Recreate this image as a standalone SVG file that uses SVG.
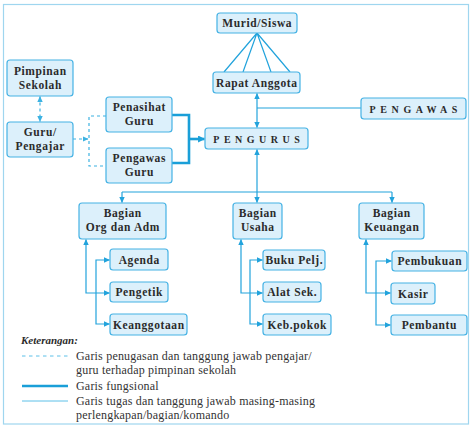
<svg xmlns="http://www.w3.org/2000/svg" width="473" height="429" viewBox="0 0 473 429">
<defs>
<marker id="ah" viewBox="0 0 6 6" refX="5.5" refY="3" markerWidth="6" markerHeight="6" markerUnits="userSpaceOnUse" orient="auto-start-reverse"><path d="M0,0.3 L6,3 L0,5.7 z" fill="#22a3dc"/></marker>
<marker id="ahd" viewBox="0 0 6 6" refX="5.5" refY="3" markerWidth="6" markerHeight="6" markerUnits="userSpaceOnUse" orient="auto-start-reverse"><path d="M0,0.3 L6,3 L0,5.7 z" fill="#3cb2e2"/></marker>
<marker id="aht" viewBox="0 0 6 6" refX="5.5" refY="3" markerWidth="7" markerHeight="7" markerUnits="userSpaceOnUse" orient="auto"><path d="M0,0 L6,3 L0,6 z" fill="#1a9fd8"/></marker>
</defs>
<style>
text{font-family:'Liberation Serif','Times New Roman','DejaVu Serif',serif}
.box{fill:#dcf0fb;stroke:#45b2e4;stroke-width:1.2}
.t{font-weight:bold;font-size:11.5px;fill:#2b2b2b;text-anchor:middle;letter-spacing:0.6px}
.cap{font-weight:bold;font-size:10px;fill:#2b2b2b;text-anchor:middle;letter-spacing:4.5px}
.ln{fill:none;stroke:#22a3dc;stroke-width:1.2}
.dl{fill:none;stroke:#3cb2e2;stroke-width:1.2;stroke-dasharray:3,3}
.th{fill:none;stroke:#1a9fd8;stroke-width:2.6}
.lg{font-size:12px;fill:#333;letter-spacing:0.2px}
</style>
<rect x="3.5" y="4.5" width="465" height="419.5" fill="#fff" stroke="#9fd6ef" stroke-width="1.2"/>

<g id="connectors">
<path class="ln" d="M257,33 L224,72 M257,33 L243,72 M257,33 L271,72 M257,33 L290,72"/>
<path class="ln" d="M257,93.5 V127.5" marker-start="url(#ah)" marker-end="url(#ah)"/>
<path class="ln" d="M361,108 H257"/>
<path class="ln" d="M257,192 V149.5" marker-end="url(#ah)"/>
<path class="ln" d="M122,192 H392"/>
<path class="ln" d="M122,192 V202.5" marker-end="url(#ah)"/>
<path class="ln" d="M257,192 V202.5" marker-end="url(#ah)"/>
<path class="ln" d="M392,192 V202.5" marker-end="url(#ah)"/>
<path class="ln" d="M86,239.5 V293 H109.5" marker-start="url(#ah)" marker-end="url(#ah)"/>
<path class="ln" d="M109.5,260 H96 V324 H109.5" marker-start="url(#ah)" marker-end="url(#ah)"/>
<path class="ln" d="M241,239.5 V293 H262.5" marker-start="url(#ah)" marker-end="url(#ah)"/>
<path class="ln" d="M262.5,260 H250 V324 H262.5" marker-start="url(#ah)" marker-end="url(#ah)"/>
<path class="ln" d="M366,239.5 V293 H390.5" marker-start="url(#ah)" marker-end="url(#ah)"/>
<path class="ln" d="M391.5,261 H376 V325 H390.5" marker-start="url(#ah)" marker-end="url(#ah)"/>
<path class="dl" d="M40,96.5 V121.5" marker-start="url(#ahd)" marker-end="url(#ahd)"/>
<path class="dl" d="M73,139 H88" marker-end="url(#ahd)"/>
<path class="dl" d="M106,116 H89 V166 H106"/>
<path class="th" d="M172,115 H189 V163 H172"/>
<path class="th" d="M189,139 H204.5" marker-end="url(#aht)"/>
</g>

<g id="murid"><rect class="box" x="217" y="13" width="80" height="20" rx="3"/><text class="t" x="257.3" y="27">Murid/Siswa</text></g>
<g id="rapat"><rect class="box" x="213" y="72" width="87" height="21" rx="3"/><text class="t" x="256.8" y="86.5">Rapat Anggota</text></g>
<g id="pengawas"><rect class="box" x="361" y="98" width="105" height="21" rx="3"/><text class="cap" x="415.8" y="112.5" style="letter-spacing:4.6px">PENGAWAS</text></g>
<g id="pengurus"><rect class="box" x="205" y="128" width="103" height="21" rx="3"/><text class="cap" x="258.8" y="142.5">PENGURUS</text></g>
<g id="pimpinan"><rect class="box" x="7" y="60" width="66" height="36" rx="3"/><text class="t" x="40.3" y="75">Pimpinan</text><text class="t" x="40.3" y="88.5">Sekolah</text></g>
<g id="guru"><rect class="box" x="7" y="122" width="66" height="35" rx="3"/><text class="t" x="40.3" y="136">Guru/</text><text class="t" x="40.3" y="150">Pengajar</text></g>
<g id="penasihat"><rect class="box" x="106" y="97" width="66" height="35" rx="3"/><text class="t" x="139.3" y="111">Penasihat</text><text class="t" x="139.3" y="125">Guru</text></g>
<g id="pengawasguru"><rect class="box" x="106" y="148" width="66" height="35" rx="3"/><text class="t" x="139.3" y="162">Pengawas</text><text class="t" x="139.3" y="176">Guru</text></g>
<g id="org"><rect class="box" x="79" y="203" width="87" height="36" rx="3"/><text class="t" x="122.8" y="217">Bagian</text><text class="t" x="122.8" y="230.5">Org dan Adm</text></g>
<g id="usaha"><rect class="box" x="233" y="203" width="49" height="36" rx="3"/><text class="t" x="257.8" y="217">Bagian</text><text class="t" x="257.8" y="230.5">Usaha</text></g>
<g id="keuangan"><rect class="box" x="359" y="203" width="65" height="36" rx="3"/><text class="t" x="391.8" y="217">Bagian</text><text class="t" x="391.8" y="230.5">Keuangan</text></g>
<g id="agenda"><rect class="box" x="110" y="249" width="58" height="21" rx="3"/><text class="t" x="139.3" y="263.5">Agenda</text></g>
<g id="pengetik"><rect class="box" x="110" y="282" width="58" height="20" rx="3"/><text class="t" x="139.3" y="296">Pengetik</text></g>
<g id="keanggotaan"><rect class="box" x="110" y="314" width="77" height="21" rx="3"/><text class="t" x="148.8" y="328.5">Keanggotaan</text></g>
<g id="buku"><rect class="box" x="263" y="250" width="62" height="20" rx="3"/><text class="t" x="294.3" y="264">Buku Pelj.</text></g>
<g id="alat"><rect class="box" x="263" y="282" width="58" height="20" rx="3"/><text class="t" x="292.3" y="296">Alat Sek.</text></g>
<g id="keb"><rect class="box" x="263" y="314" width="68" height="21" rx="3"/><text class="t" x="297.3" y="328.5">Keb.pokok</text></g>
<g id="pembukuan"><rect class="box" x="392" y="251" width="75" height="20" rx="3"/><text class="t" x="429.8" y="265">Pembukuan</text></g>
<g id="kasir"><rect class="box" x="391" y="283" width="44" height="21" rx="3"/><text class="t" x="413.3" y="297.5">Kasir</text></g>
<g id="pembantu"><rect class="box" x="391" y="315" width="76" height="20" rx="3"/><text class="t" x="429.3" y="329">Pembantu</text></g>

<g id="legend">
<text x="21" y="344" style="font-style:italic;font-weight:bold;font-size:11px;fill:#2b2b2b">Keterangan:</text>
<path d="M22,356 H68" stroke="#5cc0e8" stroke-width="1" stroke-dasharray="3.5,3.5" fill="none"/>
<text class="lg" x="76" y="359.5">Garis penugasan dan tanggung jawab pengajar/</text>
<text class="lg" x="76" y="373.5">guru terhadap pimpinan sekolah</text>
<path d="M22,386 H68" stroke="#1a9fd8" stroke-width="2.6" fill="none"/>
<text class="lg" x="76" y="389.5">Garis fungsional</text>
<path d="M22,401 H68" stroke="#5cc0e8" stroke-width="1" fill="none"/>
<text class="lg" x="76" y="404.5">Garis tugas dan tanggung jawab masing-masing</text>
<text class="lg" x="76" y="418.5">perlengkapan/bagian/komando</text>
</g>
</svg>
